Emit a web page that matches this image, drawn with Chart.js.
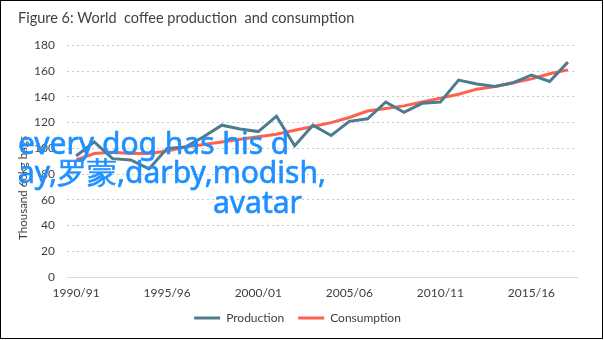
<!DOCTYPE html>
<html>
<head>
<meta charset="utf-8">
<script src="https://cdn.jsdelivr.net/npm/chart.js@4"></script>
<style>
  html, body { margin: 0; padding: 0; background: #fff; }
  #wrap { position: relative; width: 604px; height: 340px; }
  #frame { position: absolute; left: 0; top: 0; width: 601px; height: 337px; border: 1.5px solid #000; pointer-events: none; }
  .stamp { position: absolute; font-family: "Noto Sans", sans-serif; font-size: 30px; line-height: 30px; color: #1E90FF; white-space: nowrap; -webkit-text-stroke: 0.6px #1E90FF; }
</style>
</head>
<body>
<div id="wrap">
  <canvas id="coffeeChart" width="604" height="340"></canvas>
  <div class="stamp" style="left:18px; top:128px;">every dog has his d</div>
  <div class="stamp" style="left:18px; top:157px;">ay,罗蒙,darby,modish,</div>
  <div class="stamp" style="left:213px; top:187px;">avatar</div>
  <div id="frame"></div>
</div>
<script>
// crop years 1990/91 .. 2017/18
const seasons = [
  '1990/91', '1991/92', '1992/93', '1993/94', '1994/95', '1995/96', '1996/97',
  '1997/98', '1998/99', '1999/00', '2000/01', '2001/02', '2002/03', '2003/04',
  '2004/05', '2005/06', '2006/07', '2007/08', '2008/09', '2009/10', '2010/11',
  '2011/12', '2012/13', '2013/14', '2014/15', '2015/16', '2016/17', '2017/18'
];

// thousand 60kg bags
const production = [
  94, 105, 92, 91, 84, 100, 101, 109, 118, 115, 113, 125, 102, 118,
  110, 121, 123, 136, 128, 135, 136, 153, 150, 148, 151, 157, 152, 167
];
const consumption = [
  91, 96, 97, 96, 96, 98, 101, 103, 105, 107, 109, 111, 114, 117,
  120, 124, 129, 131, 133, 136, 139, 142, 146, 148, 151, 154, 158, 161
];

const yTicks = [0, 20, 40, 60, 80, 100, 120, 140, 160, 180];

const textColor = '#404040';
const font = "Lato, 'Liberation Sans', sans-serif";

// rotated y axis caption, placed a little below the axis middle
const yCaption = {
  id: 'yCaption',
  afterDraw(chart) {
    const ctx = chart.ctx;
    ctx.save();
    ctx.translate(23, 188);
    ctx.rotate(-Math.PI / 2);
    ctx.font = '11.5px ' + font;
    ctx.fillStyle = textColor;
    ctx.textAlign = 'center';
    ctx.textBaseline = 'middle';
    ctx.fillText('Thousand 60kg bags', 0, 0);
    ctx.restore();
  }
};

const ctx = document.getElementById('coffeeChart').getContext('2d');
new Chart(ctx, {
  type: 'line',
  data: {
    labels: seasons,
    datasets: [{
      label: 'Production',
      data: production,
      borderColor: '#4E7C8F',
      backgroundColor: '#4E7C8F',
      borderWidth: 3,
      pointRadius: 0,
      tension: 0
    }, {
      label: 'Consumption',
      data: consumption,
      borderColor: '#FF6150',
      backgroundColor: '#FF6150',
      borderWidth: 3,
      pointRadius: 0,
      tension: 0
    }]
  },
  options: {
    responsive: false,
    animation: false,
    layout: { padding: { left: 18, right: 27, top: 0, bottom: 6 } },
    plugins: {
      title: {
        display: true,
        text: 'Figure 6: World  coffee production  and consumption',
        align: 'start',
        color: textColor,
        font: { family: font, size: 14.5, weight: 'normal' },
        padding: { top: 10, bottom: 18 }
      },
      legend: {
        position: 'bottom',
        labels: {
          color: textColor,
          font: { family: font, size: 12 },
          boxWidth: 26,
          boxHeight: 3,
          padding: 14,
          generateLabels: (chart) =>
            Chart.defaults.plugins.legend.labels.generateLabels(chart).map(l => ({ ...l, lineWidth: 0 }))
        }
      },
      tooltip: { enabled: false }
    },
    scales: {
      x: {
        offset: true,
        grid: { display: false },
        border: { display: true, color: '#D9D9D9', width: 1 },
        ticks: {
          autoSkip: false,
          maxRotation: 0,
          padding: 1,
          color: textColor,
          font: { family: font, size: 12 },
          callback: (v, i) => (i % 5 === 0 ? seasons[i] : '')
        },
        afterFit: (s) => { s.height = 21; }
      },
      y: {
        min: 0,
        max: 180,
        afterBuildTicks: (s) => { s.ticks = yTicks.map(v => ({ value: v })); },
        grid: { color: '#C8C8C8', drawTicks: false },
        border: { display: false, dash: [2, 3] },
        ticks: {
          padding: 12,
          color: textColor,
          font: { family: font, size: 12 }
        },
        afterFit: (s) => { s.width = 49; }
      }
    }
  },
  plugins: [yCaption]
});
</script>
</body>
</html>
